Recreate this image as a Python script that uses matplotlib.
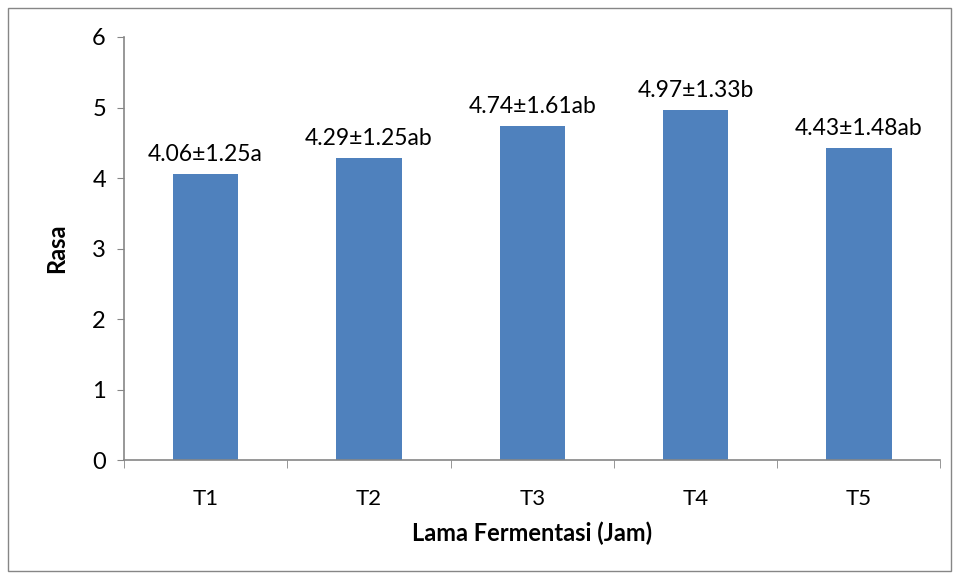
import matplotlib.pyplot as plt
from matplotlib.patches import Rectangle

categories = ["T1", "T2", "T3", "T4", "T5"]
rasa_mean = [4.06, 4.29, 4.74, 4.97, 4.43]
rasa_sd = [1.25, 1.25, 1.61, 1.33, 1.48]
notasi = ["a", "ab", "ab", "b", "ab"]

plt.rcParams["font.family"] = ["Lato", "DejaVu Sans"]

BAR = "#4F81BD"
AXIS = "#868686"

fig = plt.figure(figsize=(9.59, 5.79), dpi=100)
ax = fig.add_axes([0.1293, 0.2055, 0.8514, 0.7306])

x = list(range(len(categories)))
ax.bar(x, rasa_mean, width=0.4, color=BAR, zorder=2)

for xi, m, s, n in zip(x, rasa_mean, rasa_sd, notasi):
    ax.annotate(f"{m:.2f}\u00b1{s:.2f}{n}", (xi, m), xytext=(0, 6),
                textcoords="offset points", ha="center", va="bottom", fontsize=16.5)

ax.set_xlim(-0.5, len(categories) - 0.5)
ax.set_ylim(0, 6)
ax.set_yticks(range(0, 7))
ax.tick_params(axis="y", labelsize=17, length=5, color=AXIS, pad=8)

# category labels without ticks, boundary ticks between categories
ax.set_xticks(x)
ax.set_xticklabels(categories, fontsize=16)
ax.tick_params(axis="x", which="major", length=0, pad=21)
ax.set_xticks([i - 0.5 for i in range(len(categories) + 1)], minor=True)
ax.tick_params(axis="x", which="minor", length=6, color=AXIS)

for side in ["top", "right"]:
    ax.spines[side].set_visible(False)
for side in ["left", "bottom"]:
    ax.spines[side].set_color(AXIS)
    ax.spines[side].set_linewidth(1.2)

ax.set_ylabel("Rasa", fontsize=17, fontweight="bold", labelpad=17)
ax.set_xlabel("Lama Fermentasi (Jam)", fontsize=17, fontweight="bold", labelpad=9)

# chart border like Excel
fig.patches.append(Rectangle((8 / 959, 8 / 579), 943 / 959, 563 / 579,
                             transform=fig.transFigure, fill=False,
                             edgecolor=AXIS, linewidth=1))

fig.savefig("out.png", dpi=100)
